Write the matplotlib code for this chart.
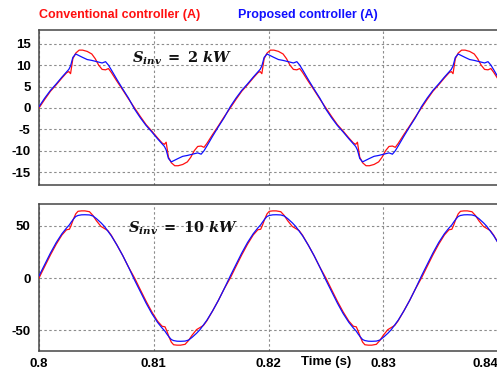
import numpy as np
import matplotlib
matplotlib.use("Agg")
import matplotlib.pyplot as plt

plt.rcParams['font.family'] = ['Liberation Sans', 'DejaVu Sans']
plt.rcParams['mathtext.fontset'] = 'dejavuserif'

# ---------------- data (time offsets in ms from 0.8 s) ----------------
time_2kw_ms = [
    0, 0.5, 1.0, 1.5, 2.0, 2.4, 2.6, 2.75, 2.95, 3.2, 3.5, 3.8, 4.2, 4.6, 4.9, 5.2, 5.5, 5.8, 6.05, 6.3, 6.8, 7.3, 7.8,
    8.33, 8.83, 9.33, 9.83, 10.33, 10.73, 10.93, 11.08, 11.28, 11.53, 11.83, 12.13, 12.53, 12.93, 13.23, 13.53, 13.83, 14.13, 14.38, 14.63, 15.13, 15.63, 16.13,
    16.67, 17.17, 17.67, 18.17, 18.67, 19.07, 19.27, 19.42, 19.62, 19.87, 20.17, 20.47, 20.87, 21.27, 21.57, 21.87, 22.17, 22.47, 22.72, 22.97, 23.47, 23.97, 24.47,
    25.0, 25.5, 26.0, 26.5, 27.0, 27.4, 27.6, 27.75, 27.95, 28.2, 28.5, 28.8, 29.2, 29.6, 29.9, 30.2, 30.5, 30.8, 31.05, 31.3, 31.8, 32.3, 32.8,
    33.33, 33.83, 34.33, 34.83, 35.33, 35.73, 35.93, 36.08, 36.28, 36.53, 36.83, 37.13, 37.53, 37.93, 38.23, 38.53, 38.83, 39.13, 39.38, 39.63, 40.13,
]
conv_2kw = [
    0, 2.0, 3.9, 5.4, 7.0, 8.2, 8.5, 8.0, 11.5, 12.8, 13.5, 13.5, 13.2, 12.6, 11.5, 10.0, 9.0, 8.9, 9.2, 8.3, 6.2, 4.2, 2.1,
    0, -2.0, -3.9, -5.4, -7.0, -8.2, -8.5, -8.0, -11.5, -12.8, -13.5, -13.5, -13.2, -12.6, -11.5, -10.0, -9.0, -8.9, -9.2, -8.3, -6.2, -4.2, -2.1,
    0, 2.0, 3.9, 5.4, 7.0, 8.2, 8.5, 8.0, 11.5, 12.8, 13.5, 13.5, 13.2, 12.6, 11.5, 10.0, 9.0, 8.9, 9.2, 8.3, 6.2, 4.2, 2.1,
    0, -2.0, -3.9, -5.4, -7.0, -8.2, -8.5, -8.0, -11.5, -12.8, -13.5, -13.5, -13.2, -12.6, -11.5, -10.0, -9.0, -8.9, -9.2, -8.3, -6.2, -4.2, -2.1,
    0, 2.0, 3.9, 5.4, 7.0, 8.2, 8.5, 8.0, 11.5, 12.8, 13.5, 13.5, 13.2, 12.6, 11.5, 10.0, 9.0, 8.9, 9.2, 8.3, 6.2,
]
prop_2kw = [
    0.3, 2.3, 4.1, 5.6, 7.2, 8.4, 9.0, 9.8, 11.8, 12.6, 12.2, 11.8, 11.3, 11.1, 10.9, 10.7, 10.5, 10.8, 10.0, 8.9, 6.6, 4.4, 2.3,
    -0.3, -2.3, -4.1, -5.6, -7.2, -8.4, -9.0, -9.8, -11.8, -12.6, -12.2, -11.8, -11.3, -11.1, -10.9, -10.7, -10.5, -10.8, -10.0, -8.9, -6.6, -4.4, -2.3,
    0.3, 2.3, 4.1, 5.6, 7.2, 8.4, 9.0, 9.8, 11.8, 12.6, 12.2, 11.8, 11.3, 11.1, 10.9, 10.7, 10.5, 10.8, 10.0, 8.9, 6.6, 4.4, 2.3,
    -0.3, -2.3, -4.1, -5.6, -7.2, -8.4, -9.0, -9.8, -11.8, -12.6, -12.2, -11.8, -11.3, -11.1, -10.9, -10.7, -10.5, -10.8, -10.0, -8.9, -6.6, -4.4, -2.3,
    0.3, 2.3, 4.1, 5.6, 7.2, 8.4, 9.0, 9.8, 11.8, 12.6, 12.2, 11.8, 11.3, 11.1, 10.9, 10.7, 10.5, 10.8, 10.0, 8.9, 6.6,
]

time_10kw_ms = [
    0, 0.5, 1.0, 1.5, 2.0, 2.4, 2.65, 2.8, 3.0, 3.2, 3.4, 3.7, 4.0, 4.4, 4.7, 5.0, 5.4, 5.7, 6.0, 6.3, 6.8, 7.3, 7.8,
    8.33, 8.83, 9.33, 9.83, 10.33, 10.73, 10.98, 11.13, 11.33, 11.53, 11.73, 12.03, 12.33, 12.73, 13.03, 13.33, 13.73, 14.03, 14.33, 14.63, 15.13, 15.63, 16.13,
    16.67, 17.17, 17.67, 18.17, 18.67, 19.07, 19.32, 19.47, 19.67, 19.87, 20.07, 20.37, 20.67, 21.07, 21.37, 21.67, 22.07, 22.37, 22.67, 22.97, 23.47, 23.97, 24.47,
    25.0, 25.5, 26.0, 26.5, 27.0, 27.4, 27.65, 27.8, 28.0, 28.2, 28.4, 28.7, 29.0, 29.4, 29.7, 30.0, 30.4, 30.7, 31.0, 31.3, 31.8, 32.3, 32.8,
    33.33, 33.83, 34.33, 34.83, 35.33, 35.73, 35.98, 36.13, 36.33, 36.53, 36.73, 37.03, 37.33, 37.73, 38.03, 38.33, 38.73, 39.03, 39.33, 39.63, 40.13,
]
conv_10kw = [
    0, 11.2, 22.2, 32.4, 41.3, 46.3, 46.8, 50.5, 56.5, 61.5, 64.0, 64.4, 64.4, 63.6, 60.0, 55.0, 49.5, 47.5, 45.5, 41.0, 31.5, 21.5, 10.5,
    0, -11.2, -22.2, -32.4, -41.3, -46.3, -46.8, -50.5, -56.5, -61.5, -64.0, -64.4, -64.4, -63.6, -60.0, -55.0, -49.5, -47.5, -45.5, -41.0, -31.5, -21.5, -10.5,
    0, 11.2, 22.2, 32.4, 41.3, 46.3, 46.8, 50.5, 56.5, 61.5, 64.0, 64.4, 64.4, 63.6, 60.0, 55.0, 49.5, 47.5, 45.5, 41.0, 31.5, 21.5, 10.5,
    0, -11.2, -22.2, -32.4, -41.3, -46.3, -46.8, -50.5, -56.5, -61.5, -64.0, -64.4, -64.4, -63.6, -60.0, -55.0, -49.5, -47.5, -45.5, -41.0, -31.5, -21.5, -10.5,
    0, 11.2, 22.2, 32.4, 41.3, 46.3, 46.8, 50.5, 56.5, 61.5, 64.0, 64.4, 64.4, 63.6, 60.0, 55.0, 49.5, 47.5, 45.5, 41.0, 31.5,
]
prop_10kw = [
    2.0, 13.0, 24.0, 34.0, 42.5, 48.0, 51.0, 53.5, 56.5, 59.0, 60.0, 60.6, 60.7, 60.5, 59.5, 57.0, 53.0, 49.5, 45.0, 40.5, 31.5, 21.5, 10.5,
    -2.0, -13.0, -24.0, -34.0, -42.5, -48.0, -51.0, -53.5, -56.5, -59.0, -60.0, -60.6, -60.7, -60.5, -59.5, -57.0, -53.0, -49.5, -45.0, -40.5, -31.5, -21.5, -10.5,
    2.0, 13.0, 24.0, 34.0, 42.5, 48.0, 51.0, 53.5, 56.5, 59.0, 60.0, 60.6, 60.7, 60.5, 59.5, 57.0, 53.0, 49.5, 45.0, 40.5, 31.5, 21.5, 10.5,
    -2.0, -13.0, -24.0, -34.0, -42.5, -48.0, -51.0, -53.5, -56.5, -59.0, -60.0, -60.6, -60.7, -60.5, -59.5, -57.0, -53.0, -49.5, -45.0, -40.5, -31.5, -21.5, -10.5,
    2.0, 13.0, 24.0, 34.0, 42.5, 48.0, 51.0, 53.5, 56.5, 59.0, 60.0, 60.6, 60.7, 60.5, 59.5, 57.0, 53.0, 49.5, 45.0, 40.5, 31.5,
]

x_ticks = [0.8, 0.81, 0.82, 0.83, 0.84]
x_tick_labels = ['0.8', '0.81', '0.82', '0.83', '0.84']
y_ticks_2kw = [-15, -10, -5, 0, 5, 10, 15]
y_ticks_10kw = [-50, 0, 50]

legend_conv = 'Conventional controller (A)'
legend_prop = 'Proposed controller (A)'
x_label = 'Time (s)'
label_2kw = r'$\mathbfit{S}_{\mathbfit{inv}}\ \mathbf{=}\ \mathbf{2}\ \mathbfit{kW}$'
label_10kw = r'$\mathbfit{S}_{\mathbfit{inv}}\ \mathbf{=}\ \mathbf{10}\ \mathbfit{kW}$'

# ---------------- figure ----------------
W, H = 497, 371
fig = plt.figure(figsize=(W / 100, H / 100), dpi=100)
fig.patch.set_facecolor('white')

RED = '#ff1010'
BLUE = '#1010ff'
SPINE = '#454545'
GRID = '#8c8c8c'

def px_axes(left, top, right, bottom):
    return fig.add_axes([left / W, 1 - bottom / H, (right - left) / W, (bottom - top) / H])

ax1 = px_axes(39, 30, 498, 185)
ax2 = px_axes(39, 204, 498, 351)

t2 = 0.8 + np.array(time_2kw_ms) / 1000.0
t10 = 0.8 + np.array(time_10kw_ms) / 1000.0

ax1.plot(t2, conv_2kw, color=RED, lw=0.9, zorder=3)
ax1.plot(t2, prop_2kw, color=BLUE, lw=0.9, zorder=4)
ax2.plot(t10, conv_10kw, color=RED, lw=0.9, zorder=3)
ax2.plot(t10, prop_10kw, color=BLUE, lw=0.9, zorder=4)

for ax, yt, ylim in ((ax1, y_ticks_2kw, (-18, 18.2)), (ax2, y_ticks_10kw, (-70, 71))):
    ax.set_xlim(0.8, 0.84)
    ax.set_ylim(*ylim)
    ax.set_yticks(yt)
    ax.set_yticklabels([str(v) for v in yt])
    ax.set_xticks(x_ticks)
    ax.grid(True, color=GRID, linestyle=(0, (2.2, 2.2)), linewidth=0.8)
    ax.tick_params(length=0, labelsize=9.5, pad=6)
    for lab in ax.get_yticklabels():
        lab.set_fontweight('bold')
    for side in ('left', 'top', 'bottom'):
        ax.spines[side].set_color(SPINE)
        ax.spines[side].set_linewidth(1.1)
    ax.spines['right'].set_visible(False)
    ax.set_facecolor('white')

ax1.set_xticklabels([])
ax2.set_xticklabels(x_tick_labels)
for lab in ax2.get_xticklabels():
    lab.set_fontweight('bold')
ax2.get_xticklabels()[-1].set_horizontalalignment('right')
ax2.tick_params(axis='x', pad=5)

fig.text(39 / W, 1 - 15 / H, legend_conv, color=RED, fontsize=9, fontweight='bold', va='center', ha='left')
fig.text(238 / W, 1 - 15 / H, legend_prop, color=BLUE, fontsize=9, fontweight='bold', va='center', ha='left')
fig.text(301 / W, 1 - 362 / H, x_label, color='black', fontsize=9.5, fontweight='bold', va='center', ha='left')

fig.text(132 / W, 1 - 58 / H, label_2kw, fontsize=10.5, va='center', ha='left', color='#111111')
fig.text(128 / W, 1 - 228 / H, label_10kw, fontsize=10.5, va='center', ha='left', color='#111111')

fig.savefig('out.png', dpi=100, facecolor='white')
